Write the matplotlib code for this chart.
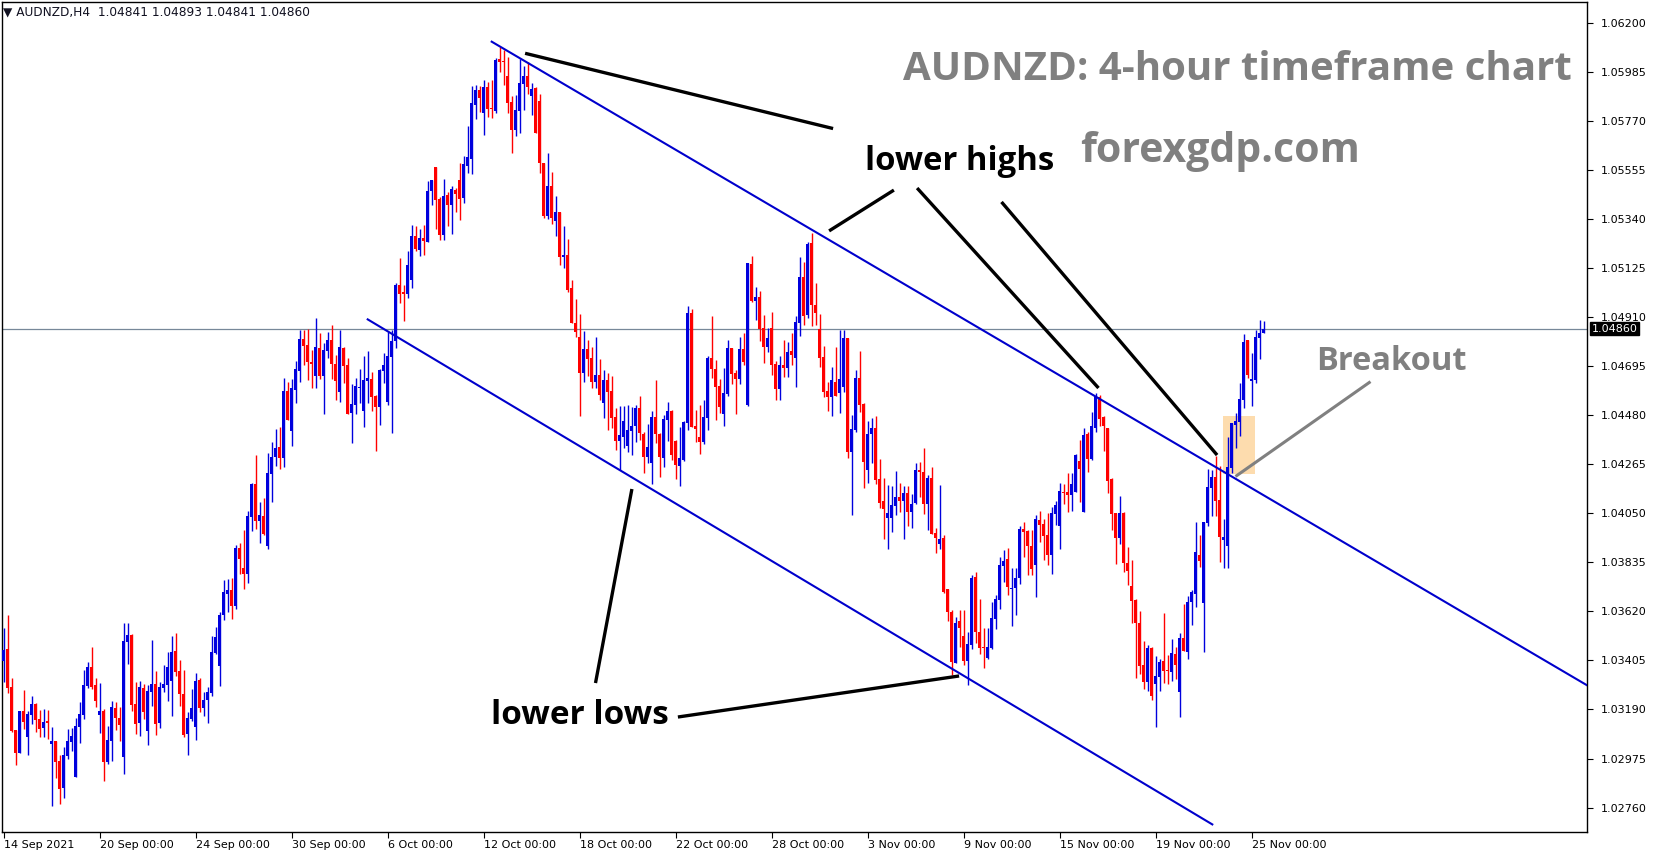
import matplotlib
matplotlib.use("Agg")
import matplotlib.pyplot as plt
import matplotlib.transforms as mtransforms
from matplotlib.patches import Rectangle
import numpy as np

# AUDNZD H4 candles, one per 4 hours from 14 Sep 2021.
# Prices are in pips above 1.0 (345.1 means 1.03451)
opens = [340.4, 345.5, 328.9, 310.0, 300.1, 318.3, 307.1, 316.7, 321.4, 314.8, 311.0, 314.0, 304.0, 305.2, 296.4, 284.7, 298.7, 304.7, 289.5, 311.5,
         316.6, 329.4, 337.6, 329.7, 316.6, 318.3, 296.1, 305.2, 319.8, 315.4, 298.3, 348.7, 351.7, 321.4, 313.2, 328.6, 309.7, 326.8, 330.2, 313.2,
         328.6, 329.7, 331.6, 344.7, 335.9, 325.8, 308.3, 314.8, 311.5, 331.9, 319.7, 323.2, 326.4, 343.8, 338.1, 360.4, 369.7, 371.4, 364.4, 390.0,
         381.2, 378.4, 403.4, 417.9, 401.8, 403.9, 390.9, 422.4, 429.8, 434.1, 429.5, 458.8, 441.3, 459.3, 467.6, 481.5, 478.9, 471.6, 465.4, 477.6,
         465.4, 476.4, 481.0, 470.4, 458.4, 477.4, 470.1, 448.9, 452.7, 460.0, 450.1, 463.0, 463.9, 456.5, 451.8, 467.6, 454.0, 473.7, 480.6, 505.2,
         501.9, 501.2, 507.5, 526.6, 520.5, 525.8, 524.0, 546.4, 556.9, 542.9, 527.3, 544.6, 540.4, 546.8, 551.2, 543.3, 557.5, 560.6, 584.3, 590.7,
         580.8, 592.0, 582.4, 581.5, 604.2, 603.4, 596.8, 585.6, 573.2, 581.6, 593.2, 596.8, 588.2, 591.7, 586.0, 558.5, 535.6, 548.6, 533.2, 537.2,
         517.4, 518.3, 503.9, 488.4, 482.2, 466.7, 477.1, 473.2, 462.8, 465.7, 453.3, 463.5, 458.5, 447.1, 436.9, 438.7, 434.7, 441.3, 443.3, 451.1,
         439.8, 429.6, 427.3, 447.4, 439.8, 429.4, 446.0, 449.9, 436.9, 425.9, 428.4, 444.8, 492.7, 443.3, 438.7, 436.3, 447.0, 473.3, 468.3, 460.9,
         448.6, 457.4, 477.7, 466.7, 463.9, 477.3, 452.5, 514.5, 498.2, 500.1, 486.2, 478.0, 486.2, 470.4, 459.6, 470.2, 468.9, 476.2, 473.3, 488.5,
         508.7, 492.0, 523.5, 496.4, 485.9, 473.6, 458.5, 456.2, 462.6, 458.0, 460.6, 482.1, 431.8, 441.6, 464.5, 453.1, 424.0, 439.7, 442.6, 420.1,
         410.4, 402.8, 402.8, 408.4, 412.3, 410.6, 413.9, 405.8, 409.7, 424.0, 423.3, 409.1, 420.4, 396.3, 391.7, 394.1, 371.7, 361.9, 339.5, 357.8,
         351.2, 340.3, 347.3, 377.1, 352.8, 346.5, 341.7, 346.1, 358.8, 367.0, 382.1, 384.9, 372.0, 372.4, 376.8, 398.2, 397.3, 390.9, 382.4, 402.1,
         400.5, 395.5, 386.9, 404.7, 399.5, 414.4, 414.4, 413.1, 414.4, 428.0, 405.8, 439.8, 428.9, 442.6, 456.2, 447.4, 442.6, 419.9, 405.0, 394.4,
         405.0, 383.4, 373.2, 367.0, 356.8, 338.5, 331.2, 346.1, 330.0, 333.4, 340.3, 336.3, 335.6, 343.3, 326.8, 350.2, 344.4, 366.1, 369.7, 386.6,
         365.9, 400.9, 416.0, 421.0, 410.9, 393.4, 390.8, 425.1, 443.8, 445.2, 454.7, 481.1, 463.2, 463.5, 482.1, 484.1]
highs = [354.9, 360.4, 332.9, 310.0, 318.3, 327.5, 318.3, 324.9, 321.7, 318.8, 319.2, 318.8, 311.3, 305.2, 299.0, 302.7, 310.4, 310.9, 315.4, 322.3,
         336.5, 339.8, 346.4, 332.8, 330.6, 319.4, 311.8, 322.9, 322.4, 320.2, 357.1, 357.1, 352.3, 331.2, 331.5, 330.3, 329.7, 349.5, 336.0, 331.0,
         338.5, 344.4, 351.2, 352.7, 340.7, 336.3, 317.9, 328.0, 335.2, 332.9, 326.7, 329.0, 351.2, 355.2, 361.9, 375.8, 376.4, 376.7, 391.2, 392.0,
         397.7, 406.2, 418.5, 430.6, 410.0, 411.8, 431.5, 436.3, 442.0, 442.9, 464.4, 462.6, 463.9, 471.9, 485.4, 485.4, 486.0, 476.7, 490.7, 484.1,
         479.8, 484.6, 487.6, 474.5, 485.4, 477.8, 473.0, 461.7, 464.2, 468.2, 474.0, 476.2, 467.2, 456.9, 468.2, 475.5, 484.7, 485.4, 505.9, 517.0,
         505.2, 520.1, 531.5, 531.0, 529.6, 531.5, 550.8, 551.2, 556.9, 543.9, 551.7, 546.0, 548.6, 547.7, 558.8, 561.8, 574.9, 592.6, 592.9, 592.5,
         595.1, 594.2, 595.1, 604.6, 609.7, 608.2, 605.3, 588.2, 588.5, 604.2, 601.2, 603.1, 593.6, 592.2, 589.0, 558.5, 562.9, 554.9, 544.2, 537.2,
         531.2, 525.3, 507.4, 499.2, 492.4, 485.0, 481.0, 478.1, 482.5, 472.7, 467.9, 466.4, 465.3, 451.1, 452.1, 452.3, 452.4, 451.8, 452.7, 456.3,
         440.5, 444.2, 449.9, 463.5, 440.4, 448.2, 453.9, 450.3, 437.2, 443.0, 445.7, 496.0, 494.7, 450.3, 452.4, 454.7, 474.0, 491.6, 472.3, 463.9,
         468.6, 481.1, 477.7, 467.9, 482.5, 484.3, 515.0, 517.9, 504.4, 502.5, 492.0, 486.5, 493.5, 471.8, 474.0, 481.1, 480.2, 484.3, 491.6, 517.6,
         515.4, 524.2, 528.1, 506.2, 492.5, 478.4, 462.8, 469.4, 477.8, 485.4, 485.4, 482.1, 448.2, 467.9, 476.4, 453.3, 445.5, 447.0, 447.9, 429.0,
         420.4, 417.5, 417.0, 423.7, 418.5, 417.2, 417.2, 413.4, 427.0, 427.7, 433.5, 421.8, 425.5, 398.5, 417.5, 395.5, 371.7, 362.6, 359.7, 362.6,
         362.6, 353.0, 378.0, 379.4, 367.5, 354.6, 354.6, 366.1, 369.2, 386.0, 389.0, 389.7, 380.9, 380.9, 399.6, 401.2, 397.7, 397.7, 404.2, 405.9,
         402.5, 405.0, 407.9, 410.4, 418.5, 417.8, 422.6, 422.9, 431.0, 437.2, 442.6, 440.9, 449.5, 457.7, 456.8, 447.7, 442.6, 420.4, 405.0, 412.6,
         405.8, 390.4, 384.6, 367.3, 362.2, 349.2, 347.3, 346.6, 342.5, 341.0, 361.2, 342.8, 349.8, 346.6, 352.7, 365.3, 368.8, 371.4, 401.4, 395.5,
         401.4, 424.6, 424.0, 430.3, 425.9, 402.7, 438.7, 444.8, 448.9, 462.1, 483.7, 481.1, 475.2, 485.4, 489.8, 489.3]
lows = [331.2, 326.1, 309.3, 294.7, 300.1, 310.4, 299.0, 312.6, 309.3, 307.1, 307.1, 306.0, 276.7, 289.1, 277.7, 280.3, 297.3, 300.8, 289.5, 304.3,
        315.0, 328.6, 328.1, 320.2, 308.8, 287.8, 295.2, 296.5, 310.2, 305.3, 290.9, 339.1, 318.5, 308.4, 307.5, 315.0, 303.6, 320.7, 308.0, 311.0,
        326.8, 322.9, 316.2, 333.7, 320.5, 306.8, 299.0, 314.1, 305.6, 318.1, 316.2, 313.2, 324.9, 343.3, 329.3, 358.3, 361.8, 358.7, 363.2, 378.4,
        371.8, 374.5, 397.4, 398.2, 392.2, 395.5, 389.5, 410.0, 425.8, 424.5, 425.4, 446.0, 434.7, 453.4, 462.6, 470.2, 463.5, 460.0, 460.0, 464.1,
        448.8, 473.3, 463.9, 454.7, 454.0, 462.3, 448.7, 436.0, 448.4, 453.6, 443.0, 453.3, 450.1, 432.5, 443.8, 462.3, 452.7, 440.1, 477.7, 497.4,
        489.4, 499.6, 504.0, 520.2, 518.0, 518.3, 524.0, 540.3, 529.6, 524.9, 524.9, 531.0, 527.5, 537.2, 533.7, 541.1, 554.3, 553.9, 578.1, 581.2,
        571.1, 579.0, 578.3, 580.5, 598.7, 592.9, 580.8, 563.2, 570.7, 572.0, 581.9, 589.0, 579.7, 571.7, 554.1, 534.4, 534.0, 531.9, 526.8, 514.1,
        512.6, 502.0, 488.4, 482.5, 447.9, 462.5, 465.4, 459.9, 459.9, 454.7, 446.8, 441.6, 442.3, 432.8, 424.0, 433.5, 432.1, 430.6, 436.5, 437.2,
        422.9, 427.0, 418.0, 435.7, 421.0, 425.5, 436.9, 428.4, 420.0, 417.0, 428.0, 441.6, 442.8, 436.3, 431.1, 435.4, 441.6, 464.2, 446.0, 448.9,
        443.3, 456.5, 461.8, 448.6, 461.8, 470.1, 452.1, 497.7, 489.8, 480.6, 471.1, 475.9, 465.7, 454.7, 454.7, 465.0, 465.0, 470.1, 460.6, 482.8,
        487.6, 490.9, 487.2, 487.6, 469.4, 456.2, 449.9, 447.9, 456.6, 449.2, 458.4, 429.5, 404.3, 440.8, 449.6, 416.3, 418.2, 427.0, 417.9, 407.2,
        393.8, 389.4, 397.0, 404.3, 405.8, 393.8, 399.5, 398.7, 409.1, 412.3, 404.7, 397.7, 396.0, 387.8, 389.2, 370.2, 358.0, 334.1, 339.2, 346.5,
        338.5, 329.7, 345.4, 348.0, 343.3, 337.3, 341.0, 345.7, 354.4, 363.1, 375.1, 369.2, 355.6, 360.4, 374.0, 386.0, 378.0, 378.0, 368.5, 392.3,
        384.5, 382.5, 378.6, 399.9, 389.4, 409.1, 405.8, 406.2, 414.4, 410.0, 405.8, 423.3, 428.4, 440.5, 443.5, 432.4, 414.1, 397.7, 382.8, 391.6,
        379.4, 373.6, 357.1, 333.0, 334.6, 328.0, 327.3, 323.2, 311.5, 327.3, 330.5, 330.2, 331.5, 332.5, 315.9, 344.8, 341.3, 356.1, 364.1, 381.6,
        344.4, 399.5, 403.9, 403.9, 383.8, 381.2, 381.2, 422.6, 433.5, 439.0, 451.4, 464.5, 452.1, 462.1, 472.9, 484.1]
closes = [345.1, 328.6, 309.6, 300.1, 318.3, 313.7, 317.0, 321.4, 314.5, 310.6, 313.5, 313.2, 305.2, 296.1, 284.3, 299.0, 305.2, 307.4, 311.8, 317.0,
          329.7, 337.6, 329.0, 322.9, 318.3, 296.1, 305.6, 320.1, 315.4, 312.3, 349.0, 351.7, 321.1, 312.8, 328.9, 318.0, 327.1, 330.2, 312.8, 328.9,
          330.2, 337.6, 344.2, 335.6, 325.8, 307.8, 315.1, 319.7, 331.5, 319.7, 323.2, 326.7, 344.2, 350.8, 360.4, 370.5, 371.4, 364.4, 390.0, 385.0,
          378.4, 403.9, 417.9, 401.8, 404.3, 395.8, 422.9, 429.8, 433.7, 429.5, 458.8, 446.0, 460.0, 468.3, 481.5, 478.6, 471.6, 470.7, 478.0, 465.4,
          476.7, 481.1, 470.4, 463.2, 477.8, 469.8, 448.7, 453.0, 460.9, 460.4, 463.5, 464.2, 456.2, 451.8, 467.9, 470.1, 474.0, 480.6, 505.2, 501.4,
          501.4, 513.9, 526.6, 520.8, 525.8, 524.6, 546.4, 551.2, 542.6, 527.3, 544.2, 540.4, 547.1, 545.1, 543.0, 558.3, 561.5, 585.0, 590.7, 587.3,
          592.0, 582.4, 582.2, 603.9, 603.1, 603.1, 585.1, 573.2, 581.9, 593.9, 596.8, 591.9, 591.1, 571.7, 558.5, 535.6, 548.6, 534.7, 537.2, 517.6,
          518.3, 503.1, 488.4, 484.7, 466.7, 477.1, 472.9, 462.8, 465.7, 457.0, 463.5, 458.4, 447.0, 436.9, 439.2, 445.5, 441.6, 443.3, 451.1, 440.1,
          429.9, 434.3, 447.4, 439.8, 429.9, 446.4, 449.9, 430.6, 426.1, 429.4, 445.1, 493.0, 443.0, 442.0, 436.3, 447.4, 473.3, 468.5, 460.6, 451.7,
          458.0, 477.7, 466.1, 463.9, 477.3, 471.5, 514.7, 498.2, 499.8, 485.9, 478.0, 482.1, 470.1, 459.6, 470.2, 468.9, 475.8, 474.5, 488.8, 508.7,
          491.7, 523.2, 496.4, 493.0, 473.3, 458.4, 456.2, 463.5, 456.6, 463.9, 482.1, 432.1, 442.0, 464.5, 452.7, 427.7, 439.8, 442.6, 419.7, 409.7,
          407.1, 405.3, 408.7, 412.3, 410.6, 413.9, 405.8, 409.1, 424.0, 423.3, 409.1, 420.4, 396.0, 394.1, 393.8, 370.7, 361.9, 340.0, 357.1, 354.6,
          340.3, 347.7, 376.7, 352.8, 346.1, 346.1, 346.5, 359.3, 367.5, 382.4, 384.1, 372.9, 372.4, 376.8, 398.2, 396.8, 390.9, 380.8, 402.4, 400.0,
          395.1, 386.9, 405.2, 408.7, 414.8, 413.8, 413.1, 417.9, 430.6, 424.5, 439.4, 428.9, 443.3, 456.5, 446.4, 443.5, 419.4, 404.7, 394.4, 405.0,
          383.4, 379.9, 366.7, 356.8, 338.2, 331.2, 345.8, 325.1, 333.7, 339.8, 336.0, 335.7, 343.6, 338.5, 350.2, 344.8, 366.1, 370.5, 388.1, 384.1,
          401.2, 416.6, 421.0, 410.4, 394.8, 394.7, 425.5, 444.5, 445.7, 455.0, 480.3, 465.7, 464.0, 482.5, 484.3, 486.0]

date_ticks = [0, 24, 48, 72, 96, 120, 144, 168, 192, 216, 240, 264, 288, 312]
date_labels = ['14 Sep 2021', '20 Sep 00:00', '24 Sep 00:00', '30 Sep 00:00', '6 Oct 00:00',
               '12 Oct 00:00', '18 Oct 00:00', '22 Oct 00:00', '28 Oct 00:00', '3 Nov 00:00',
               '9 Nov 00:00', '15 Nov 00:00', '19 Nov 00:00', '25 Nov 00:00']
price_ticks = [1.06200, 1.05985, 1.05770, 1.05555, 1.05340, 1.05125, 1.04910, 1.04695, 1.04480,
               1.04265, 1.04050, 1.03835, 1.03620, 1.03405, 1.03190, 1.02975, 1.02760]
last_price = 1.04860
header = '\u25bc AUDNZD,H4  1.04841 1.04893 1.04841 1.04860'

# channel and annotation lines: (bar index, price)
upper_channel = [(122.05, 1.06119), (395.9, 1.03296)]
lower_channel = [(91.05, 1.04901), (302.2, 1.02686)]
lower_high_lines = [[(130.4, 1.06068), (207.4, 1.05738)],
                    [(222.6, 1.05468), (206.4, 1.05289)],
                    [(228.4, 1.05477), (273.75, 1.04600)],
                    [(249.5, 1.05416), (303.4, 1.04306)]]
lower_low_lines = [[(148.0, 1.03306), (157.1, 1.04157)],
                   [(168.6, 1.03157), (238.9, 1.03337)]]
breakout_line = [(341.75, 1.04628), (308.0, 1.04212)]
breakout_box = (304.9, 312.9, 1.04223, 1.04476)

o = 1 + np.array(opens) / 1e4
h = 1 + np.array(highs) / 1e4
l = 1 + np.array(lows) / 1e4
c = 1 + np.array(closes) / 1e4
x = np.arange(len(o))

W, H = 1653, 850
fig = plt.figure(figsize=(W / 100, H / 100), dpi=100)
ax = fig.add_axes([2 / W, 18 / H, 1585 / W, 830 / H])
ax.set_xlim(-0.375, 395.875)
ax.set_ylim(1.026527, 1.062930)

blue = '#0000dd'
red = '#ff0000'
cols = np.where(c >= o, blue, red)

# highlight box behind the candles
bx0, bx1, by0, by1 = breakout_box
ax.add_patch(Rectangle((bx0, by0), bx1 - bx0, by1 - by0, facecolor='#fddcae',
                       edgecolor='none', zorder=0))

ax.axhline(last_price, color='#778899', lw=0.9, zorder=1)

ax.vlines(x, l, h, colors=cols, lw=1.0, zorder=2)
body = np.maximum(np.abs(c - o), 0.00004)
ax.bar(x, body, bottom=np.minimum(o, c), width=0.85, color=cols, linewidth=0, zorder=3)

for seg in [upper_channel, lower_channel]:
    ax.plot([p[0] for p in seg], [p[1] for p in seg], color='#0000cc', lw=1.5, zorder=4)
for seg in lower_high_lines + lower_low_lines:
    ax.plot([p[0] for p in seg], [p[1] for p in seg], color='black', lw=2.4,
            solid_capstyle='butt', zorder=5)
ax.plot([p[0] for p in breakout_line], [p[1] for p in breakout_line], color='#808080',
        lw=2.2, solid_capstyle='butt', zorder=5)

# axes styling
for s in ax.spines.values():
    s.set_linewidth(1)
    s.set_color('black')
ax.yaxis.tick_right()
ax.set_yticks(price_ticks)
ax.set_yticklabels(['%.5f' % v for v in price_ticks])
ax.tick_params(axis='y', direction='out', length=4, width=0.8, pad=6, labelsize=8)
ax.set_xticks(date_ticks)
ax.set_xticklabels(date_labels, ha='left')
ax.tick_params(axis='x', direction='out', length=4, width=0.8, pad=2, labelsize=8)

# current price tag on the axis
trans = mtransforms.blended_transform_factory(ax.transAxes, ax.transData)
ax.text(1.003, last_price, '1.04860', transform=trans, fontsize=8, color='white',
        va='center', ha='left', zorder=10,
        bbox=dict(boxstyle='square,pad=0.15', facecolor='black', edgecolor='black'))

def fig_xy(px, py):
    return px / W, 1 - py / H

fig.text(*fig_xy(3, 12), header, fontsize=8.7, va='center', ha='left', color='#101020')
fig.text(*fig_xy(1237, 69), 'AUDNZD: 4-hour timeframe chart', fontsize=29, fontweight='bold',
         family='Open Sans', color='#808080', ha='center', va='center')
fig.text(*fig_xy(1220, 151), 'forexgdp.com', fontsize=29.5, fontweight='bold',
         family='Open Sans', color='#808080', ha='center', va='center')
fig.text(*fig_xy(960, 161), 'lower highs', fontsize=23.7, fontweight='bold',
         family='Open Sans', color='black', ha='center', va='center')
fig.text(*fig_xy(580, 716), 'lower lows', fontsize=24, fontweight='bold',
         family='Open Sans', color='black', ha='center', va='center')
fig.text(*fig_xy(1391, 362), 'Breakout', fontsize=23.5, fontweight='bold',
         family='Open Sans', color='#808080', ha='center', va='center')

fig.savefig('out.png', dpi=100)
